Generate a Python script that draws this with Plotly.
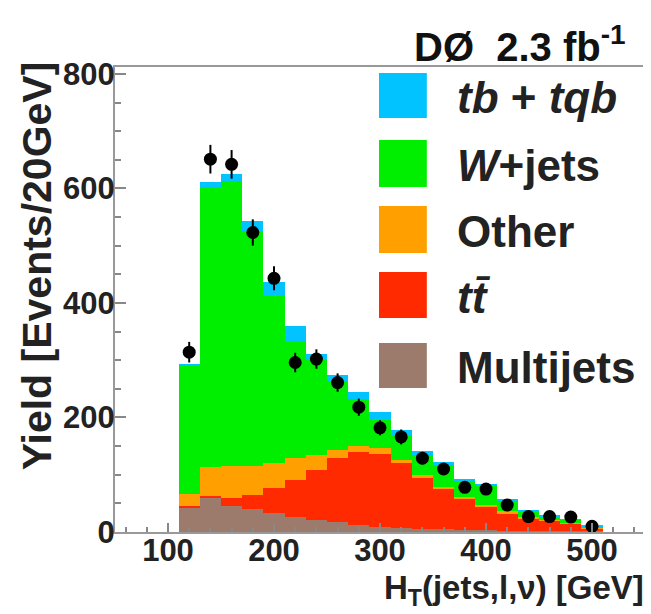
import plotly.graph_objects as go

# ---- data ----
bin_centers = [120, 140, 160, 180, 200, 220, 240, 260, 280, 300,
               320, 340, 360, 380, 400, 420, 440, 460, 480, 500]
multijets   = [43, 59, 45, 40, 33, 27, 21, 18, 13, 9, 7, 6, 5, 4, 3, 2, 2, 1, 1, 1]
ttbar       = [3, 4, 14, 24, 44, 64, 88, 112, 126, 128, 113, 88, 70, 53, 41, 31, 22, 19, 14, 5]
other       = [21, 50, 56, 51, 43, 39, 26, 14, 11, 9, 6, 6, 4, 5, 3, 3, 3, 1, 1, 1]
wjets       = [224, 488, 498, 410, 292, 201, 165, 120, 83, 50, 42, 35, 38, 27, 34, 19, 8, 6, 5, 3]
single_top  = [3, 10, 13, 18, 25, 29, 11, 11, 11, 14, 10, 6, 5, 4, 3, 2, 2, 1, 1, 1]
data_vals   = [314, 651, 642, 523, 443, 296, 302, 261, 218, 182,
               166, 129, 110, 78, 75, 47, 27, 27, 26, 10]
data_err    = [18, 25, 25, 23, 21, 17, 17, 16, 15, 13, 13, 11, 10, 9, 9, 7, 5, 5, 5, 3]

series_names  = ["Multijets", "tt̄", "Other", "W+jets", "tb+tqb"]
legend_labels = ["<b><i>tb</i> + <i>tqb</i></b>", "<b><i>W</i>+jets</b>", "<b>Other</b>",
                 "<b><i>tt̄</i></b>", "<b>Multijets</b>"]
colors = {"Multijets": "#9C7B6D", "tt̄": "#FF2A00", "Other": "#FFA000",
          "W+jets": "#00EE00", "tb+tqb": "#00C3FF"}
bin_width = 20

stack = [multijets, ttbar, other, wjets, single_top]

fig = go.Figure()
for name, vals in zip(series_names, stack):
    fig.add_trace(go.Bar(x=bin_centers, y=vals, width=bin_width, name=name,
                         marker=dict(color=colors[name], line=dict(width=0)),
                         showlegend=False))

fig.add_trace(go.Scatter(x=bin_centers, y=data_vals, mode="markers",
                         marker=dict(color="black", size=13),
                         error_y=dict(type="data", array=data_err, color="black",
                                      thickness=2, width=0),
                         showlegend=False))

# page body has an 8px default margin: layout is shrunk accordingly
OFF = 8
W, H = 651 - OFF, 614 - OFF
L_s, R_s, T_s, B_s = 115, 647, 67, 532          # plot area in screen pixels
pw, ph = R_s - L_s, B_s - T_s


def px(xs):
    return (xs - L_s) / pw


def py(ys):
    return (B_s - ys) / ph


font_b = dict(family="Liberation Sans", color="#222222", weight="bold")

fig.update_layout(
    width=W, height=H,
    margin=dict(l=L_s - OFF, r=W - (R_s - OFF), t=T_s - OFF, b=H - (B_s - OFF)),
    barmode="stack", bargap=0, plot_bgcolor="white", paper_bgcolor="white",
    xaxis=dict(range=[50, 550], tickvals=[100, 200, 300, 400, 500],
               ticks="inside", ticklen=9, tickwidth=1.5, tickcolor="#888",
               minor=dict(dtick=20, tick0=0, ticks="inside", ticklen=5, tickcolor="#888"),
               showline=True, linecolor="#999", linewidth=2, mirror=True,
               showgrid=False, zeroline=False, ticklabelstandoff=-10,
               tickfont=dict(size=31, **font_b)),
    yaxis=dict(range=[0, 812], tickvals=[0, 200, 400, 600, 800],
               ticks="inside", ticklen=11, tickwidth=1.5, tickcolor="#888",
               minor=dict(dtick=50, ticks="inside", ticklen=6, tickcolor="#888"),
               showline=True, linecolor="#999", linewidth=2, mirror=True,
               showgrid=False, zeroline=False, ticklabelstandoff=-8,
               tickfont=dict(size=31, **font_b)),
)

# axis titles and header
fig.add_annotation(text="<b>Yield [Events/20GeV]</b>", textangle=-90,
                   xref="paper", yref="paper", x=px(37), y=py(266),
                   xanchor="center", yanchor="middle", showarrow=False,
                   font=dict(size=41, family="Liberation Sans", color="#222222"))
fig.add_annotation(text="<b>H<sub>T</sub>(jets,l,ν) [GeV]</b>",
                   xref="paper", yref="paper", x=px(648), y=py(590),
                   xanchor="right", yanchor="middle", showarrow=False,
                   font=dict(size=33, family="Liberation Sans", color="#222222"))
fig.add_annotation(text="<b>DØ  2.3 fb<sup>-1</sup></b>",
                   xref="paper", yref="paper", x=px(630), y=py(44),
                   xanchor="right", yanchor="middle", showarrow=False,
                   font=dict(size=40, family="Liberation Sans", color="#111111"))

# manual legend
legend_order = ["tb+tqb", "W+jets", "Other", "tt̄", "Multijets"]
box_y = [(73, 118), (140, 187), (206, 253), (272, 318), (343, 388)]
for name, lab, (y0, y1) in zip(legend_order, legend_labels, box_y):
    fig.add_shape(type="rect", xref="paper", yref="paper",
                  x0=px(380), x1=px(428), y0=py(y1), y1=py(y0),
                  fillcolor=colors[name], line=dict(width=0))
    fig.add_annotation(text=lab, xref="paper", yref="paper",
                       x=px(456), y=py((y0 + y1) / 2 + 2), xanchor="left", yanchor="middle",
                       showarrow=False,
                       font=dict(size=44, family="Liberation Sans", color="#222222"))

fig.write_html("out.html")
